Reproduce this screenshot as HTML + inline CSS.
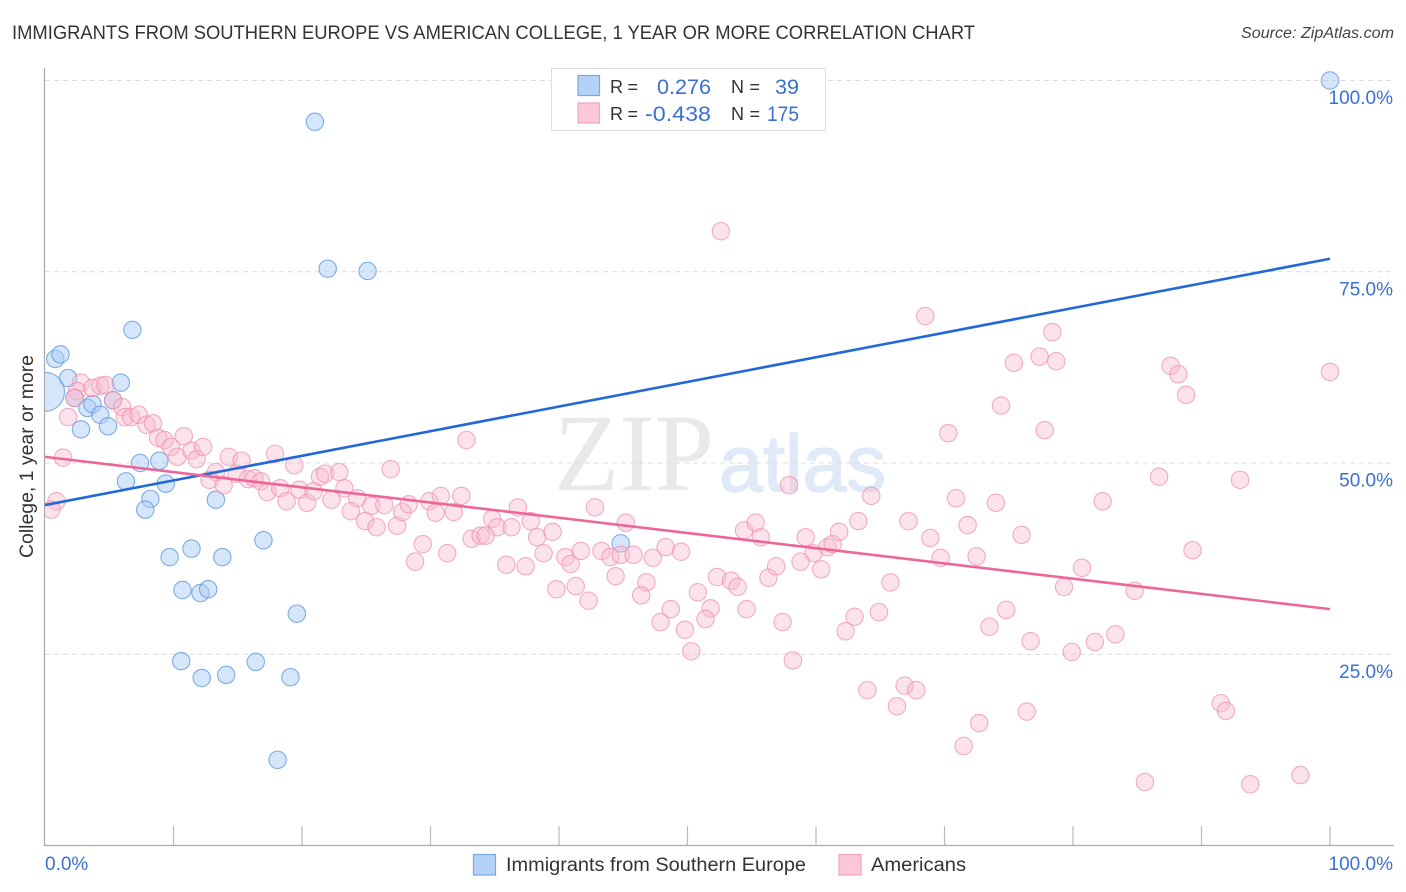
<!DOCTYPE html>
<html lang="en">
<head>
<meta charset="utf-8">
<title>Immigrants from Southern Europe vs American College, 1 Year or More Correlation Chart</title>
<style>
html,body{margin:0;padding:0;background:#fff;}
svg{display:block;font-family:"Liberation Sans",sans-serif;}
</style>
</head>
<body>
<svg id="chart" width="1406" height="892" viewBox="0 0 1406 892" xmlns="http://www.w3.org/2000/svg">
  <defs>
    <clipPath id="plot-clip"><rect x="45" y="60" width="1349" height="786"/></clipPath>
  </defs>
  <rect x="0" y="0" width="1406" height="892" fill="#ffffff"/>
  <text x="12" y="39" font-size="19.5" fill="#333333" textLength="963" lengthAdjust="spacingAndGlyphs">IMMIGRANTS FROM SOUTHERN EUROPE VS AMERICAN COLLEGE, 1 YEAR OR MORE CORRELATION CHART</text>
  <text x="1241" y="38" font-size="15.5" font-style="italic" fill="#444444" textLength="153" lengthAdjust="spacingAndGlyphs">Source: ZipAtlas.com</text>

  <g>
    <text x="554" y="490" font-family="'Liberation Serif',serif" font-size="110" fill="#e9e9e9" textLength="160" lengthAdjust="spacingAndGlyphs">ZIP</text>
    <text x="719" y="491" font-family="'Liberation Sans',sans-serif" font-size="80" fill="#dfe9f7" stroke="#dfe9f7" stroke-width="1.5" textLength="167" lengthAdjust="spacingAndGlyphs">atlas</text>
  </g>

  <g id="grid"></g>
  <g id="axes"></g>
  <g id="points-blue" clip-path="url(#plot-clip)"></g>
  <g id="points-pink" clip-path="url(#plot-clip)"></g>
  <g id="trends"></g>
  <g id="labels"></g>

  <text transform="translate(33,456.5) rotate(-90)" font-size="19" fill="#333333" text-anchor="middle" textLength="203" lengthAdjust="spacingAndGlyphs">College, 1 year or more</text>

  <g>
    <rect x="551.5" y="68.5" width="274" height="62" fill="#ffffff" stroke="#dcdcdc" stroke-width="1"/>
    <rect x="578" y="75.5" width="21.5" height="20" fill="#b5d2f6" stroke="#78a8e2" stroke-width="1.2"/>
    <rect x="578" y="103" width="21.5" height="20" fill="#fcc8d9" stroke="#f2a3bd" stroke-width="1.2"/>
    <text x="610" y="93" font-size="18" fill="#333333" textLength="28">R =</text>
    <text x="711" y="94" font-size="21.5" fill="#3a70cf" text-anchor="end" textLength="54" lengthAdjust="spacingAndGlyphs">0.276</text>
    <text x="731" y="93" font-size="18" fill="#333333" textLength="29">N =</text>
    <text x="799" y="94" font-size="21.5" fill="#3a70cf" text-anchor="end" textLength="24" lengthAdjust="spacingAndGlyphs">39</text>
    <text x="610" y="120" font-size="18" fill="#333333" textLength="28">R =</text>
    <text x="711" y="121" font-size="21.5" fill="#3a70cf" text-anchor="end" textLength="66" lengthAdjust="spacingAndGlyphs">-0.438</text>
    <text x="731" y="120" font-size="18" fill="#333333" textLength="29">N =</text>
    <text x="767" y="121" font-size="21.5" fill="#3a70cf" textLength="32" lengthAdjust="spacingAndGlyphs">175</text>
  </g>

  <g>
    <rect x="473.5" y="854.5" width="22" height="20.5" fill="#b5d2f6" stroke="#78a8e2" stroke-width="1.2"/>
    <text x="506" y="871" font-size="19" fill="#333333" textLength="300" lengthAdjust="spacingAndGlyphs">Immigrants from Southern Europe</text>
    <rect x="839" y="854.5" width="22" height="20.5" fill="#fcc8d9" stroke="#f2a3bd" stroke-width="1.2"/>
    <text x="871" y="871" font-size="19" fill="#333333" textLength="95" lengthAdjust="spacingAndGlyphs">Americans</text>
  </g>
</svg>

<script>
const xTickValues = [0, 10, 20, 30, 40, 50, 60, 70, 80, 90, 100];
const yGridValues = [25, 50, 75, 100];
const yTickLabels = ["25.0%", "50.0%", "75.0%", "100.0%"];
const xEndLabels = ["0.0%", "100.0%"];

const blueX = [100,21.0,22.0,25.1,6.8,0.8,1.2,1.8,5.9,0,2.3,5.3,3.3,3.7,4.3,2.8,4.9,7.4,8.9,6.3,9.4,8.2,7.8,13.3,17.0,44.8,11.4,9.7,13.8,10.7,12.1,12.7,19.6,10.6,16.4,12.2,14.1,19.1,18.1];
const blueY = [100,94.6,75.4,75.1,67.4,63.6,64.2,61.1,60.5,59.3,58.5,58.2,57.2,57.7,56.3,54.4,54.8,50.0,50.3,47.6,47.3,45.3,43.9,45.2,39.9,39.5,38.8,37.7,37.7,33.4,33.0,33.5,30.3,24.1,24.0,21.9,22.3,22.0,11.2];
const blueLargestSample = 9;

const pinkX = [1.8,1.4,0.9,0.5,2.8,2.5,3.7,4.3,4.7,2.3,5.3,6.0,6.2,6.7,7.3,7.9,8.4,8.8,9.3,9.8,10.3,10.8,11.4,11.8,12.3,14.3,15.3,13.3,12.8,13.9,17.9,19.4,14.9,15.8,16.3,16.8,17.3,18.3,18.8,19.8,20.4,20.9,21.4,21.8,22.9,23.3,22.3,24.3,23.8,25.4,26.4,24.9,25.8,27.4,27.8,28.3,29.9,30.8,30.4,31.8,32.4,26.9,32.8,34.8,35.2,33.2,33.9,34.3,29.4,31.3,28.8,36.8,36.3,37.8,38.3,39.5,42.8,45.2,38.8,35.9,37.4,40.5,40.9,41.7,43.3,44.0,44.8,45.8,47.3,48.3,49.5,44.4,46.8,46.4,39.8,41.3,42.3,48.7,47.9,51.8,51.4,49.8,50.3,50.8,52.3,53.4,53.9,54.6,56.3,56.9,57.4,54.4,55.3,55.7,57.9,64.3,70.9,74.0,59.2,59.8,60.9,61.3,61.8,63.3,67.2,68.9,71.8,69.7,72.5,58.8,60.4,65.8,64.9,63.0,62.3,73.5,58.2,74.8,76.7,79.9,79.3,64.0,66.9,67.8,66.3,76.4,72.7,71.5,78.4,75.4,77.4,78.7,87.6,88.2,88.8,100,74.4,77.8,86.7,93.0,82.3,76.0,89.3,52.6,68.5,70.3,80.7,84.8,83.3,81.7,91.5,91.9,85.6,93.8,97.7];
const pinkY = [56.0,50.7,45.0,43.9,60.5,59.4,59.8,60.1,60.2,58.5,58.2,57.3,56.0,56.0,56.3,55.0,55.2,53.3,53.0,52.1,50.8,53.5,51.6,50.5,52.1,50.8,50.3,48.8,47.8,47.1,51.2,49.7,48.6,47.9,48.0,47.6,46.2,46.7,45.0,46.5,44.8,46.3,48.2,48.6,48.8,46.7,45.2,45.4,43.7,44.4,44.5,42.4,41.6,41.8,43.6,44.6,45.0,45.7,43.5,43.6,45.7,49.2,53.0,42.7,41.6,40.1,40.5,40.5,39.4,38.2,37.1,44.2,41.6,42.4,40.3,41.0,44.2,42.2,38.2,36.7,36.5,37.7,36.8,38.5,38.5,37.7,38.0,38.0,37.6,39.0,38.4,35.2,34.4,32.7,33.5,33.9,32.0,30.9,29.2,31.0,29.6,28.2,25.4,33.1,35.1,34.6,33.8,30.9,35.0,36.5,29.2,41.2,42.2,40.3,47.1,45.7,45.4,44.8,40.3,38.2,39.0,39.4,41.0,42.4,42.4,40.2,41.9,37.6,37.8,37.1,36.1,34.4,30.5,29.9,28.0,28.6,24.2,30.8,26.7,25.3,33.8,20.3,20.9,20.3,18.2,17.5,16.0,13.0,67.1,63.1,63.9,63.3,62.7,61.6,58.9,61.9,57.5,54.3,48.2,47.8,45.0,40.6,38.6,80.3,69.2,53.9,36.3,33.3,27.6,26.6,18.6,17.6,8.3,8.0,9.2];

const blueTrendX = [0, 100];
const blueTrendY = [44.5, 76.7];
const pinkTrendX = [0, 100];
const pinkTrendY = [50.8, 30.9];

function xScale(v) { return 45 + v * 12.85; }
function yScale(v) { return 845.5 - v * 7.65; }

const SVGNS = "http://www.w3.org/2000/svg";
function make(tag, parentId) {
  const el = document.createElementNS(SVGNS, tag);
  document.getElementById(parentId).appendChild(el);
  return el;
}

yGridValues.forEach(function (v) {
  const el = make("line", "grid");
  
  
  el.setAttribute("x1", 45);
  el.setAttribute("x2", 1394);
  el.setAttribute("y1", yScale(v));
  el.setAttribute("y2", yScale(v));
  el.setAttribute("stroke", "#dcdcdc");
  el.setAttribute("stroke-width", "1");
  el.setAttribute("stroke-dasharray", "5 4");
});

const yAxisLine = make("line", "axes");


yAxisLine.setAttribute("x1", 44.5);
yAxisLine.setAttribute("x2", 44.5);
yAxisLine.setAttribute("y1", 68);
yAxisLine.setAttribute("y2", 846);
yAxisLine.setAttribute("stroke", "#aaaaaa");
yAxisLine.setAttribute("stroke-width", "1.2");

const xAxisLine = make("line", "axes");


xAxisLine.setAttribute("x1", 44);
xAxisLine.setAttribute("x2", 1394);
xAxisLine.setAttribute("y1", 845.5);
xAxisLine.setAttribute("y2", 845.5);
xAxisLine.setAttribute("stroke", "#aaaaaa");
xAxisLine.setAttribute("stroke-width", "1.2");

xTickValues.slice(1).forEach(function (v) {
  const el = make("line", "axes");
  
  
  el.setAttribute("x1", xScale(v));
  el.setAttribute("x2", xScale(v));
  el.setAttribute("y1", 826);
  el.setAttribute("y2", 845);
  el.setAttribute("stroke", "#bbbbbb");
  el.setAttribute("stroke-width", "1.2");
});

blueX.forEach(function (v, i) {
  const el = make("circle", "points-blue");
  
  
  el.setAttribute("cx", xScale(v));
  el.setAttribute("cy", yScale(blueY[i]));
  el.setAttribute("r", i === blueLargestSample ? 19.5 : 8.7);
  el.setAttribute("fill", "#a9cbf5");
  el.setAttribute("fill-opacity", "0.48");
  el.setAttribute("stroke", "#5f9be0");
  el.setAttribute("stroke-opacity", "0.8");
  el.setAttribute("stroke-width", "1.1");
});

pinkX.forEach(function (v, i) {
  const el = make("circle", "points-pink");
  
  
  el.setAttribute("cx", xScale(v));
  el.setAttribute("cy", yScale(pinkY[i]));
  el.setAttribute("r", 8.7);
  el.setAttribute("fill", "#f9b9ce");
  el.setAttribute("fill-opacity", "0.42");
  el.setAttribute("stroke", "#ee8dac");
  el.setAttribute("stroke-opacity", "0.7");
  el.setAttribute("stroke-width", "1.1");
});

const blueTrend = make("line", "trends");


blueTrend.setAttribute("x1", xScale(blueTrendX[0]));
blueTrend.setAttribute("y1", yScale(blueTrendY[0]));
blueTrend.setAttribute("x2", xScale(blueTrendX[1]));
blueTrend.setAttribute("y2", yScale(blueTrendY[1]));
blueTrend.setAttribute("stroke", "#2369d6");
blueTrend.setAttribute("stroke-width", "2.6");

const pinkTrend = make("line", "trends");


pinkTrend.setAttribute("x1", xScale(pinkTrendX[0]));
pinkTrend.setAttribute("y1", yScale(pinkTrendY[0]));
pinkTrend.setAttribute("x2", xScale(pinkTrendX[1]));
pinkTrend.setAttribute("y2", yScale(pinkTrendY[1]));
pinkTrend.setAttribute("stroke", "#ec6798");
pinkTrend.setAttribute("stroke-width", "2.6");

yGridValues.forEach(function (v, i) {
  const el = make("text", "labels");
  
  
  el.setAttribute("x", 1393);
  el.setAttribute("y", yScale(v) + 23.5);
  el.setAttribute("font-size", "19");
  el.setAttribute("fill", "#3a70cf");
  el.setAttribute("text-anchor", "end");
  el.textContent = yTickLabels[i];
});

const xStartLabel = make("text", "labels");


xStartLabel.setAttribute("x", 45);
xStartLabel.setAttribute("y", 870);
xStartLabel.setAttribute("font-size", "19");
xStartLabel.setAttribute("fill", "#3a70cf");
xStartLabel.textContent = xEndLabels[0];

const xEndLabel = make("text", "labels");


xEndLabel.setAttribute("x", 1393);
xEndLabel.setAttribute("y", 870);
xEndLabel.setAttribute("font-size", "19");
xEndLabel.setAttribute("fill", "#3a70cf");
xEndLabel.setAttribute("text-anchor", "end");
xEndLabel.textContent = xEndLabels[1];
</script>
</body>
</html>
